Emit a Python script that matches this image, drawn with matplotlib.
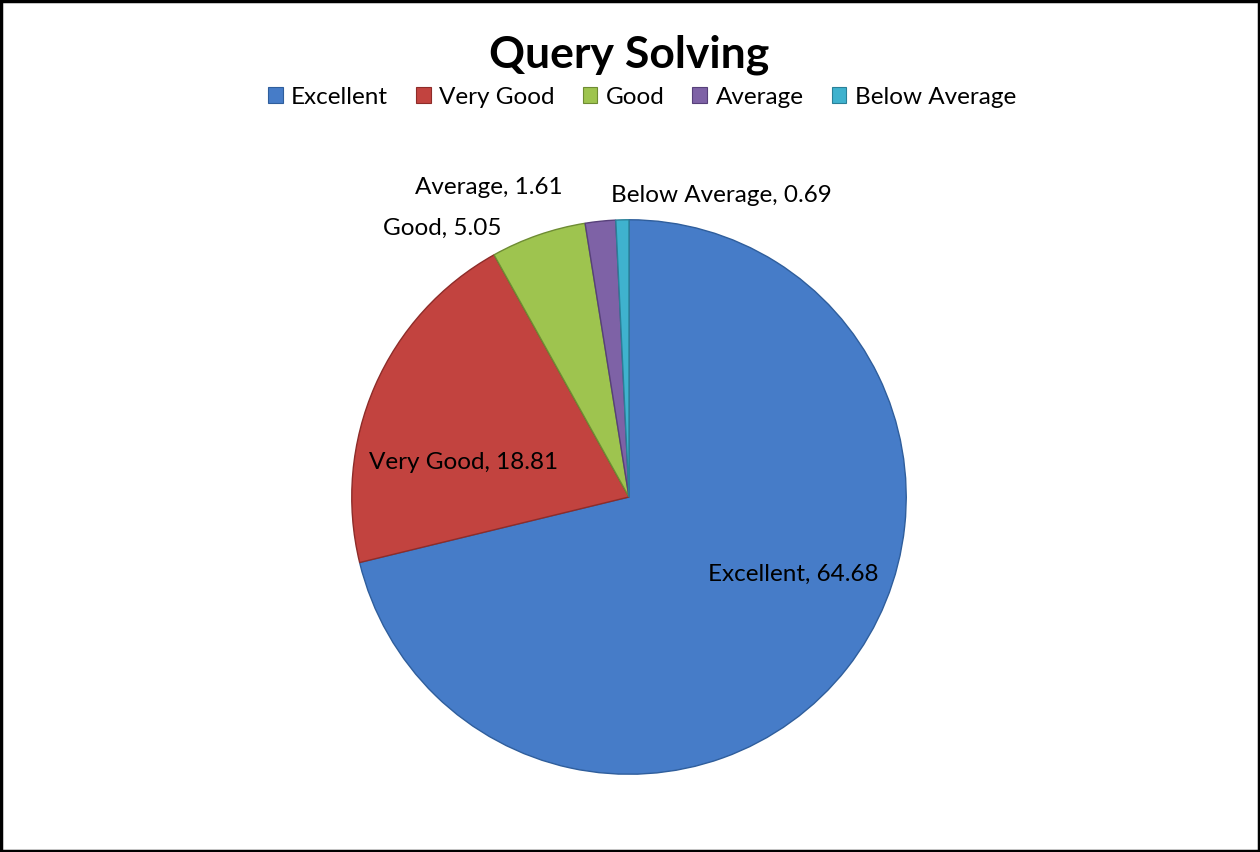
import matplotlib
matplotlib.use("Agg")
import matplotlib.pyplot as plt
from matplotlib.patches import Patch, Rectangle

plt.rcParams['font.family'] = ['Lato', 'DejaVu Sans']

# data
categories = ['Excellent', 'Very Good', 'Good', 'Average', 'Below Average']
values = [64.68, 18.81, 5.05, 1.61, 0.69]
colors = ['#467CC8', '#C2433F', '#9EC44F', '#7E62A6', '#3FB2CE']
edges = ['#2F5E9C', '#8E2C29', '#6E8C33', '#57407A', '#2A8098']

# label positions, in pie radius units
label_pos = [(0.593, -0.279), (-0.596, 0.125), (-0.675, 0.968),
             (-0.507, 1.118), (0.332, 1.086)]

fig = plt.figure(figsize=(12.6, 8.52), dpi=100)
W, H = 1260, 852

# pie centre (629, 497) px, radius 280 px
cx, cy, r = 629, 497, 280
ax = fig.add_axes([(cx - r) / W, (H - cy - r) / H, 2 * r / W, 2 * r / H])
wedges, _ = ax.pie(values, colors=colors, startangle=90, counterclock=False,
                   radius=1, wedgeprops=dict(linewidth=1.0))
for w, ec in zip(wedges, edges):
    w.set_edgecolor(ec)
ax.set_xlim(-1.01, 1.01)
ax.set_ylim(-1.01, 1.01)
ax.set_aspect('equal')
ax.axis('off')

for cat, val, (x, y) in zip(categories, values, label_pos):
    ax.text(x, y, f'{cat}, {val:.2f}', ha='center', va='center',
            fontsize=17.5, color='black', clip_on=False)

fig.text(629 / W, 1 - 55 / H, 'Query Solving', ha='center', va='center',
         fontsize=32, fontweight='bold')

handles = [Patch(facecolor=c, edgecolor=e, linewidth=0.8) for c, e in zip(colors, edges)]
fig.legend(handles, categories, loc='center', bbox_to_anchor=(642 / W, 1 - 97 / H),
           ncol=5, frameon=False, fontsize=17.5, handlelength=0.6, handleheight=0.6,
           handletextpad=0.35, columnspacing=1.15)

# outer border
fig.patches.append(Rectangle((0.001, 0.001), 0.998, 0.998, transform=fig.transFigure,
                             fill=False, edgecolor='black', linewidth=2.5))

fig.savefig('out.png', dpi=100, facecolor='white')
